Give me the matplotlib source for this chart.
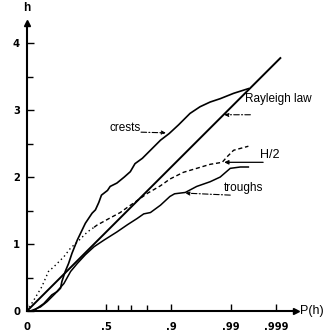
import numpy as np
import matplotlib
matplotlib.use("Agg")
import matplotlib.pyplot as plt

plt.rcParams['font.family'] = ['Liberation Sans', 'DejaVu Sans']

# x axis is the Rayleigh reduced variate sqrt(-2 ln(1-P)), so the Rayleigh law is h = x
def rayleigh_x(p):
    return np.sqrt(-2.0 * np.log(1.0 - np.asarray(p, dtype=float)))

# probability ticks
p_major = [0.0, 0.5, 0.9, 0.99, 0.999]
p_major_labels = ['0', '.5', '.9', '.99', '.999']
p_minor = [0.6, 0.7, 0.8]
h_major = [0, 1, 2, 3, 4]
h_minor = [0.5, 1.5, 2.5, 3.5]

# Rayleigh law (straight line up to P = .999)
rayleigh_p = [0.0, 0.9992]

# crests (x in reduced variate, h)
crests_x = [0.10, 0.15, 0.25, 0.37, 0.45, 0.50, 0.52, 0.57, 0.62, 0.67, 0.75, 0.87,
            0.97, 1.02, 1.07, 1.11, 1.20, 1.24, 1.34, 1.45, 1.54, 1.61, 1.72, 1.84,
            1.99, 2.12, 2.26, 2.43, 2.58, 2.73, 2.88, 3.08, 3.30]
crests_h = [0.00, 0.04, 0.11, 0.24, 0.29, 0.34, 0.44, 0.59, 0.71, 0.86, 1.06, 1.31,
            1.46, 1.51, 1.62, 1.73, 1.80, 1.86, 1.91, 2.00, 2.08, 2.20, 2.28, 2.40,
            2.55, 2.65, 2.78, 2.95, 3.05, 3.12, 3.17, 3.25, 3.32]

# troughs
troughs_x = [0.05, 0.20, 0.30, 0.42, 0.48, 0.55, 0.65, 0.75, 0.87, 1.00, 1.15, 1.34,
             1.50, 1.64, 1.74, 1.84, 1.99, 2.13, 2.20, 2.36, 2.53, 2.73, 2.88, 3.03,
             3.18, 3.30]
troughs_h = [0.00, 0.06, 0.14, 0.26, 0.33, 0.41, 0.59, 0.71, 0.84, 0.96, 1.06, 1.18,
             1.29, 1.38, 1.45, 1.47, 1.58, 1.71, 1.75, 1.77, 1.86, 1.93, 2.00, 2.13,
             2.15, 2.15]

# H/2 : dotted part then dashed part
h2_dot_x = [0.00, 0.05, 0.10, 0.16, 0.22, 0.32, 0.40, 0.55, 0.65, 0.75, 0.90, 1.00]
h2_dot_h = [0.00, 0.08, 0.16, 0.26, 0.36, 0.59, 0.66, 0.81, 0.94, 1.03, 1.18, 1.25]
h2_dash_x = [1.00, 1.04, 1.24, 1.39, 1.50, 1.63, 1.80, 1.99, 2.13, 2.33, 2.53, 2.73,
             2.91, 2.98, 3.08, 3.30]
h2_dash_h = [1.25, 1.28, 1.39, 1.47, 1.55, 1.64, 1.76, 1.87, 1.97, 2.07, 2.13, 2.19,
             2.22, 2.30, 2.40, 2.46]

fig = plt.figure(figsize=(3.35, 3.36), dpi=100)
ax = fig.add_axes([27 / 335, 25 / 336, 269 / 335, 288 / 336])

rx = rayleigh_x(rayleigh_p)
ax.plot(rx, rx, color='black', lw=1.4)
ax.plot(crests_x, crests_h, color='black', lw=1.2)
ax.plot(troughs_x, troughs_h, color='black', lw=1.1)
ax.plot(h2_dot_x, h2_dot_h, color='black', lw=1.0, linestyle=(0, (1, 2.2)))
ax.plot(h2_dash_x, h2_dash_h, color='black', lw=1.0, linestyle=(0, (3, 2)))

ax.set_xlim(0, 4.01)
ax.set_ylim(0, 4.30)

for s in ['top', 'right']:
    ax.spines[s].set_visible(False)
for s in ['left', 'bottom']:
    ax.spines[s].set_linewidth(1.5)

ax.plot(1, 0, '>k', ms=5, transform=ax.transAxes, clip_on=False)
ax.plot(0, 1, '^k', ms=5, transform=ax.transAxes, clip_on=False)

ax.set_xticks(rayleigh_x(p_major))
ax.set_xticklabels(p_major_labels)
ax.set_xticks(rayleigh_x(p_minor), minor=True)
ax.set_yticks(h_major)
ax.set_yticks(h_minor, minor=True)
ax.tick_params(which='both', direction='in', width=1, color='black')
ax.tick_params(which='major', length=5)
ax.tick_params(which='minor', length=4)
ax.tick_params(axis='x', which='major', pad=8)
ax.tick_params(axis='y', which='major', pad=5)
for lab in ax.get_xticklabels() + ax.get_yticklabels():
    lab.set_family('DejaVu Sans')
    lab.set_stretch('condensed')
    lab.set_fontsize(8)
    lab.set_fontweight('bold')

ax.text(0, 4.52, 'h', ha='center', va='center', fontsize=8.5, fontweight='bold', clip_on=False)
ax.text(4.07, 0, 'P(h)', ha='left', va='center', fontsize=9, clip_on=False)

lead = dict(arrowstyle='-|>', color='black', lw=0.8, mutation_scale=6,
            linestyle=(0, (5, 2, 1, 2)), shrinkA=0, shrinkB=0)
ax.text(1.46, 2.73, 'crests', ha='center', va='center', fontsize=8.5)
ax.annotate('', xy=(2.07, 2.66), xytext=(1.70, 2.67), arrowprops=lead)

ax.text(3.25, 3.16, 'Rayleigh law', ha='left', va='center', fontsize=8.5)
ax.annotate('', xy=(2.94, 2.93), xytext=(3.33, 2.93), arrowprops=lead)

ax.text(3.48, 2.33, 'H/2', ha='left', va='center', fontsize=9)
ax.annotate('', xy=(2.94, 2.22), xytext=(3.52, 2.22),
            arrowprops=dict(arrowstyle='-|>', color='black', lw=0.9, mutation_scale=6,
                            shrinkA=0, shrinkB=0))

ax.text(2.93, 1.84, 'troughs', ha='left', va='center', fontsize=8.5)
ax.annotate('', xy=(2.36, 1.76), xytext=(3.03, 1.73), arrowprops=lead)

fig.savefig('out.png', dpi=100)
